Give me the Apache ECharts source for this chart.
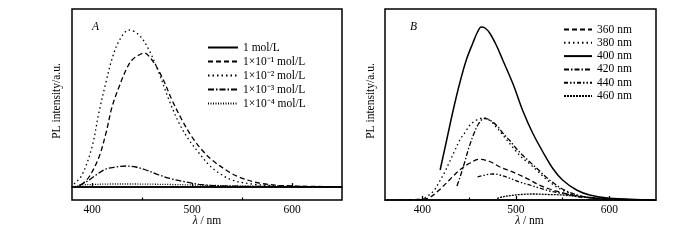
<!DOCTYPE html>
<html><head><meta charset="utf-8">
<script src="https://cdn.jsdelivr.net/npm/echarts@6/dist/echarts.min.js"></script>
<style>html,body{margin:0;padding:0;background:#fff}#c{width:700px;height:240px}</style>
</head><body><div id="c"></div>
<script>
// Panel A: concentration series, [wavelength nm, intensity a.u.]
const concNames = ['1 mol/L', '1×10⁻¹ mol/L', '1×10⁻² mol/L', '1×10⁻³ mol/L', '1×10⁻⁴ mol/L'];
const conc1 = [[380,0],[450,0],[520,0],[600,0],[650,0]];
const conc1e1 = [[389,2],[397,10],[407,30],[414,54],[420,80],[427,100],[434,117],[440,127],[447,132],[452,134],[460,127],[470,110],[480,87],[490,67],[500,50],[510,37],[520,27],[534,17],[547,10],[567,4],[587,1.7],[620,0.6],[650,0.3]];
const conc1e2 = [[382,3],[390,12],[400,40],[407,75],[414,105],[420,128],[427,146],[437,157],[447,152],[457,137],[467,114],[477,87],[487,64],[497,47],[507,34],[517,22],[527,14],[540,7],[560,3],[590,1],[650,0]];
const conc1e3 = [[387,1.7],[394,5],[404,12],[414,18],[424,20],[434,21],[444,20],[454,17],[467,12],[480,8],[494,5],[507,2.7],[524,1.3],[560,0.6],[650,0.3]];
const conc1e4 = [[383,0.5],[390,2],[400,2.5],[420,3],[440,3],[460,2.8],[480,2.5],[500,2],[520,1.6],[550,1],[600,0.5],[650,0.3]];

// Panel B: excitation wavelength series
const excNames = ['360 nm', '380 nm', '400 nm', '420 nm', '440 nm', '460 nm'];
const exc360 = [[375,0],[395,0.5],[402,1],[408,2.5],[418,10],[430,21],[440,30],[451,37],[461,40.7],[472,38.5],[483,33],[494,29],[504,25],[515,20],[525,15],[536,11],[547,8],[560,5],[571,3],[590,1.2],[610,0.5],[650,0]];
const exc380 = [[398,0],[404,3],[412,9],[418,18],[424,28],[429,38],[435,50],[440,60],[446,68],[451,75],[458,80],[466,82],[473,79],[479,73],[486,65],[493,57],[500,49],[507,42],[515,36],[522,30],[536,18],[554,8],[575,3],[600,1],[650,0]];
const exc400 = [[419,30],[426,60],[433,90],[440,117],[447,140],[454,157],[459,168],[463,173],[467,172],[472,167],[479,155],[486,140],[497,116],[508,88],[518,67],[529,48],[540,31],[550,20],[565,10],[579,5],[600,1.7],[650,0]];
const exc420 = [[437,14],[440,22],[445,37],[450,53],[455,66],[460,76],[466,81.5],[470,81],[479,75],[486,67],[493,60],[500,52],[507,45],[515,38],[522,32],[536,20],[554,9],[575,3],[600,1],[650,0]];
const exc440 = [[459,23],[467,25],[476,26],[483,25],[493,22],[504,18],[515,15],[525,12],[536,9],[547,7],[560,5],[571,3],[600,1],[650,0]];
const exc460 = [[480,1.5],[485,3],[495,4.5],[505,5.5],[520,6],[535,5.5],[550,5],[565,3.5],[580,2.5],[600,1],[620,0.5],[650,0]];

// Axis ticks
const majorTicks = [400, 500, 600];
const minorTicks = [450, 550];
const xTitle = '{i|λ} / nm';
const yTitle = 'PL intensity/a.u.';
const panelLabels = ['A', 'B'];

const serif = 'Liberation Serif';
const dashA = ['solid', [5,3], [1.5,3], [6,2,1.5,2], [1,1.5]];
const dashB = [[5,3], [1.5,3], 'solid', [5,2,1.5,2], [4,2,1.5,2,1.5,2], [2,1]];

function mkSeries(name, data, type, xi, yi) {
  return {name, type:'line', data, xAxisIndex:xi, yAxisIndex:yi, symbol:'none', smooth:0.35,
    lineStyle:{color:'#000', width: type==='solid'?1.5:1.3, type}, itemStyle:{color:'#000'}, silent:true, animation:false};
}

const series = [];
[conc1, conc1e1, conc1e2, conc1e3, conc1e4].forEach((d,i)=>series.push(mkSeries(concNames[i], d, dashA[i], 0, 0)));
[exc360, exc380, exc400, exc420, exc440, exc460].forEach((d,i)=>series.push(mkSeries(excNames[i], d, dashB[i], 2, 1)));

function xAx(grid, min, major, namePad) {
  return [{
    type:'value', gridIndex:grid, min, max:650, position:'bottom',
    axisLine:{show:true, lineStyle:{color:'#000', width:1.5}},
    axisTick:{show:true, inside:true, length:4, customValues:major, lineStyle:{color:'#000', width:1.3}},
    axisLabel:{show:true, customValues:major, margin:4, color:'#000', fontFamily:serif, fontSize:11.5},
    splitLine:{show:false},
    name:xTitle, nameLocation:'middle', nameGap:15, nameMoveOverlap:false,
    nameTextStyle:{color:'#000', fontFamily:serif, fontSize:11.5, padding:namePad,
      rich:{i:{fontStyle:'italic', fontFamily:serif, fontSize:11.5, color:'#000'}}}
  },{
    type:'value', gridIndex:grid, min, max:650, position:'bottom',
    axisLine:{show:false},
    axisTick:{show:true, inside:true, length:2.5, customValues:minorTicks, lineStyle:{color:'#000', width:1.2}},
    axisLabel:{show:false}, splitLine:{show:false}
  }];
}

const legendCommon = {orient:'vertical', padding:0, itemHeight:10, selectedMode:false,
  itemStyle:{opacity:0}, textStyle:{color:'#000', fontFamily:serif, fontSize:11.5}};

const option = {
  backgroundColor:'#fff',
  animation:false,
  grid:[
    {left:72, top:9, width:270, height:191, show:true, borderColor:'#000', borderWidth:1.5},
    {left:385, top:9, width:271, height:191, show:true, borderColor:'#000', borderWidth:1.5}
  ],
  xAxis:[...xAx(0, 380, majorTicks, [0,0,0,0]), ...xAx(1, 360, majorTicks, [0,0,0,18])],
  yAxis:[
    {type:'value', gridIndex:0, min:-13, max:178, axisLine:{show:false}, axisTick:{show:false}, axisLabel:{show:false}, splitLine:{show:false},
     name:yTitle, nameLocation:'middle', nameGap:9, nameTextStyle:{color:'#000', fontFamily:serif, fontSize:11.5, padding:[0,0,0,7]}},
    {type:'value', gridIndex:1, min:0, max:191, axisLine:{show:false}, axisTick:{show:false}, axisLabel:{show:false}, splitLine:{show:false},
     name:yTitle, nameLocation:'middle', nameGap:8, nameTextStyle:{color:'#000', fontFamily:serif, fontSize:11.5, padding:[0,0,0,7]}}
  ],
  legend:[
    Object.assign({data:concNames, left:207, top:41.5, itemWidth:30, itemGap:2}, legendCommon),
    Object.assign({data:excNames, left:563, top:23.5, itemWidth:28, itemGap:1.3}, legendCommon)
  ],
  graphic:[
    {type:'text', left:92, top:21, style:{text:panelLabels[0], fill:'#000', font:'italic 11.5px "Liberation Serif"'}},
    {type:'text', left:410, top:21, style:{text:panelLabels[1], fill:'#000', font:'italic 11.5px "Liberation Serif"'}}
  ],
  series
};
const chart = echarts.init(document.getElementById('c'), null, {renderer:'canvas'});
chart.setOption(option);
</script>
</body></html>
